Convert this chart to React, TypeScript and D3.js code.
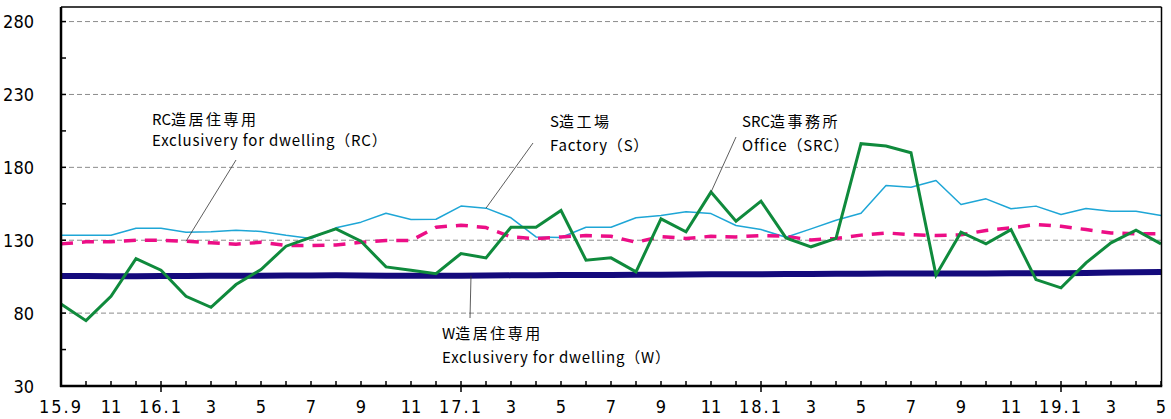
import React from "react";
import * as d3 from "d3";

// Monthly periods 2015-09 … 2019-05
const months: string[] = [
  "2015-09","2015-10","2015-11","2015-12",
  "2016-01","2016-02","2016-03","2016-04","2016-05","2016-06","2016-07","2016-08","2016-09","2016-10","2016-11","2016-12",
  "2017-01","2017-02","2017-03","2017-04","2017-05","2017-06","2017-07","2017-08","2017-09","2017-10","2017-11","2017-12",
  "2018-01","2018-02","2018-03","2018-04","2018-05","2018-06","2018-07","2018-08","2018-09","2018-10","2018-11","2018-12",
  "2019-01","2019-02","2019-03","2019-04","2019-05",
];

// Tick labels shown every second month
const tickLabels: string[] = [
  "15.9","11","16.1","3","5","7","9","11","17.1","3","5","7","9","11",
  "18.1","3","5","7","9","11","19.1","3","5",
];

const yTicks: number[] = [30, 80, 130, 180, 230, 280];
const yGrid: number[] = [80, 130, 180, 230, 280];

// SRC造事務所 Office (SRC)
const officeSRC: number[] = [
  86.3, 74.8, 91.5, 117.4, 109.4, 91.5, 84, 99.6, 109.9, 125.9, 132, 137.8, 129.3, 111.7, 109.4,
  107.1, 120.9, 117.9, 138.9, 138.9, 150.4, 116.3, 117.9, 108.3, 144.7, 135.8, 163, 143, 156.8,
  131.6, 125.5, 131.3, 196.2, 194.6, 190, 106, 135.5, 127.5, 137.3, 103, 97.3, 114.5, 128.2, 136.9, 127.5,
];

// S造工場 Factory (S)
const factoryS: number[] = [
  133.4, 133.4, 133.4, 138.2, 138.2, 135.5, 135.8, 136.9, 136, 133.4, 131.2, 138.5, 142.4, 148.5, 144.2,
  144.4, 153.4, 152, 145.4, 132.3, 131.9, 138.9, 138.9, 145.4, 147, 149.5, 148.3, 140.1, 137.3,
  132, 137.8, 143.7, 148.5, 167.6, 166.4, 171, 154.5, 158.4, 151.6, 153.4, 147.7, 151.8, 149.9, 149.9, 147,
];

// RC造居住専用 Exclusivery for dwelling (RC)
const dwellingRC: number[] = [
  127.5, 128.9, 128.9, 130, 130, 129.3, 128.2, 127.3, 128.6, 126.4, 126.4, 126.8, 128.6, 129.8, 129.8,
  138.9, 140.3, 138.7, 132.3, 131, 132.3, 133.2, 132.7, 128.6, 132.5, 131.2, 132.7, 132.3, 133.2,
  132.7, 130.2, 131.2, 133.5, 135, 133.9, 133.2, 133.7, 136.7, 138.5, 140.8, 139.6, 137.3, 135, 134.4, 134.4,
];

// W造居住専用 Exclusivery for dwelling (W)
const dwellingW: number[] = [
  105.4, 105.4, 105.3, 105.3, 105.4, 105.5, 105.6, 105.6, 105.7, 105.8, 105.8, 105.9, 105.8, 105.7, 105.6,
  105.6, 105.7, 105.8, 105.9, 106, 106.1, 106.2, 106.2, 106.3, 106.4, 106.5, 106.6, 106.6, 106.7,
  106.8, 106.9, 107, 107, 107.1, 107.1, 107.2, 107.2, 107.2, 107.3, 107.3, 107.4, 107.6, 107.8, 108, 108.2,
];

const W = 1171;
const H = 419;
const left = 61;
const right = 1161.5;
const top = 7;
const bottom = 386;

const labelFont = "'Liberation Sans Narrow', 'DejaVu Sans Condensed', 'Liberation Sans', sans-serif";
const annoFont = "'Noto Sans CJK JP', 'Noto Sans', sans-serif";

export default function App() {
  const x = d3.scaleLinear().domain([0, months.length - 1]).range([left, 1161]);
  const y = d3.scaleLinear().domain([30, 290]).range([bottom, top]);

  const line = d3
    .line<number>()
    .x((_, i) => x(i))
    .y((d) => y(d));

  const minorY = d3.range(30, 291, 25);

  const annotations = [
    { x: 152, y1: 125, y2: 146, jp: "RC造居住専用", en: "Exclusivery for dwelling（RC）", lx1: 236, ly1: 160, li: 5, lv: dwellingRC },
    { x: 550, y1: 127, y2: 151, jp: "S造工場", en: "Factory（S）", lx1: 533, ly1: 143, li: 17, lv: factoryS },
    { x: 742, y1: 127, y2: 151, jp: "SRC造事務所", en: "Office（SRC）", lx1: 736, ly1: 137, li: 26, lv: officeSRC },
    { x: 442, y1: 339, y2: 363, jp: "W造居住専用", en: "Exclusivery for dwelling（W）", lx1: 470, ly1: 318, li: 16.4, lv: dwellingW },
  ];

  return (
    <svg
      width={W}
      height={H}
      style={{ position: "absolute", left: 0, top: 0, background: "#fff" }}
      xmlns="http://www.w3.org/2000/svg"
    >
      <rect x={0} y={0} width={W} height={H} fill="#fff" />
      {/* grid */}
      {yGrid.map((v) => (
        <line
          key={"g" + v}
          x1={left}
          x2={right}
          y1={y(v)}
          y2={y(v)}
          stroke="#8c8c8c"
          strokeWidth={1}
          strokeDasharray="5,3"
        />
      ))}

      {/* y ticks (inside) */}
      {minorY.map((v) => (
        <line key={"yt" + v} x1={left} x2={left + 5} y1={y(v)} y2={y(v)} stroke="#000" strokeWidth={1.5} />
      ))}

      {/* x ticks */}
      {months.map((m, i) => {
        const isJan = m.endsWith("-01");
        return (
          <line
            key={"xt" + m}
            x1={x(i)}
            x2={x(i)}
            y1={bottom - 5}
            y2={isJan ? bottom + 6 : bottom}
            stroke="#000"
            strokeWidth={1.5}
          />
        );
      })}

      {/* series */}
      <path d={line(dwellingW) || ""} fill="none" stroke="#140a7c" strokeWidth={6} strokeLinejoin="round" />
      <path d={line(factoryS) || ""} fill="none" stroke="#1ea6d6" strokeWidth={1.5} strokeLinejoin="round" />
      <path
        d={line(dwellingRC) || ""}
        fill="none"
        stroke="#ec0e86"
        strokeWidth={3.5}
        strokeDasharray="12,9"
        strokeLinejoin="round"
      />
      <path d={line(officeSRC) || ""} fill="none" stroke="#0f8a3c" strokeWidth={3} strokeLinejoin="miter" />

      {/* frame */}
      <line x1={left} x2={right} y1={top} y2={top} stroke="#000" strokeWidth={1.5} />
      <line x1={right} x2={right} y1={top} y2={bottom} stroke="#000" strokeWidth={1.5} />
      <line x1={left} x2={left} y1={top} y2={bottom + 1} stroke="#000" strokeWidth={2.5} />
      <line x1={left - 1} x2={right + 0.75} y1={bottom} y2={bottom} stroke="#000" strokeWidth={2.5} />

      {/* y labels */}
      {yTicks.map((v) => (
        <text
          key={"yl" + v}
          x={34}
          y={y(v)}
          textAnchor="end"
          dominantBaseline="central"
          fontFamily={labelFont}
          fontSize={18}
          fill="#000"
        >
          {v}
        </text>
      ))}

      {/* x labels */}
      {tickLabels.map((t, k) => (
        <text
          key={"xl" + k}
          x={x(k * 2)}
          y={413}
          textAnchor="middle"
          fontFamily={labelFont}
          fontSize={18}
          letterSpacing={t.includes(".") ? 2 : 0}
          fill="#000"
        >
          {t}
        </text>
      ))}

      {/* annotations */}
      {annotations.map((a) => {
        const i0 = Math.floor(a.li);
        const f = a.li - i0;
        const v = a.lv[i0] + (a.lv[Math.min(i0 + 1, a.lv.length - 1)] - a.lv[i0]) * f;
        const tx = x(a.li);
        const ty = y(v);
        const m = a.jp.match(/^([A-Za-z]+)(.*)$/);
        const latin = m ? m[1] : "";
        const cjk = m ? m[2] : a.jp;
        return (
          <g key={a.jp}>
            <line x1={a.lx1} y1={a.ly1} x2={tx} y2={ty} stroke="#333" strokeWidth={0.8} />
            <text x={a.x} y={a.y1} fontFamily={annoFont} fontSize={15} fill="#000">
              <tspan>{latin}</tspan>
              <tspan letterSpacing={2.5}>{cjk}</tspan>
            </text>
            <text x={a.x} y={a.y2} fontFamily={annoFont} fontSize={15} letterSpacing={0.8} fill="#000">
              {a.en}
            </text>
          </g>
        );
      })}
    </svg>
  );
}
